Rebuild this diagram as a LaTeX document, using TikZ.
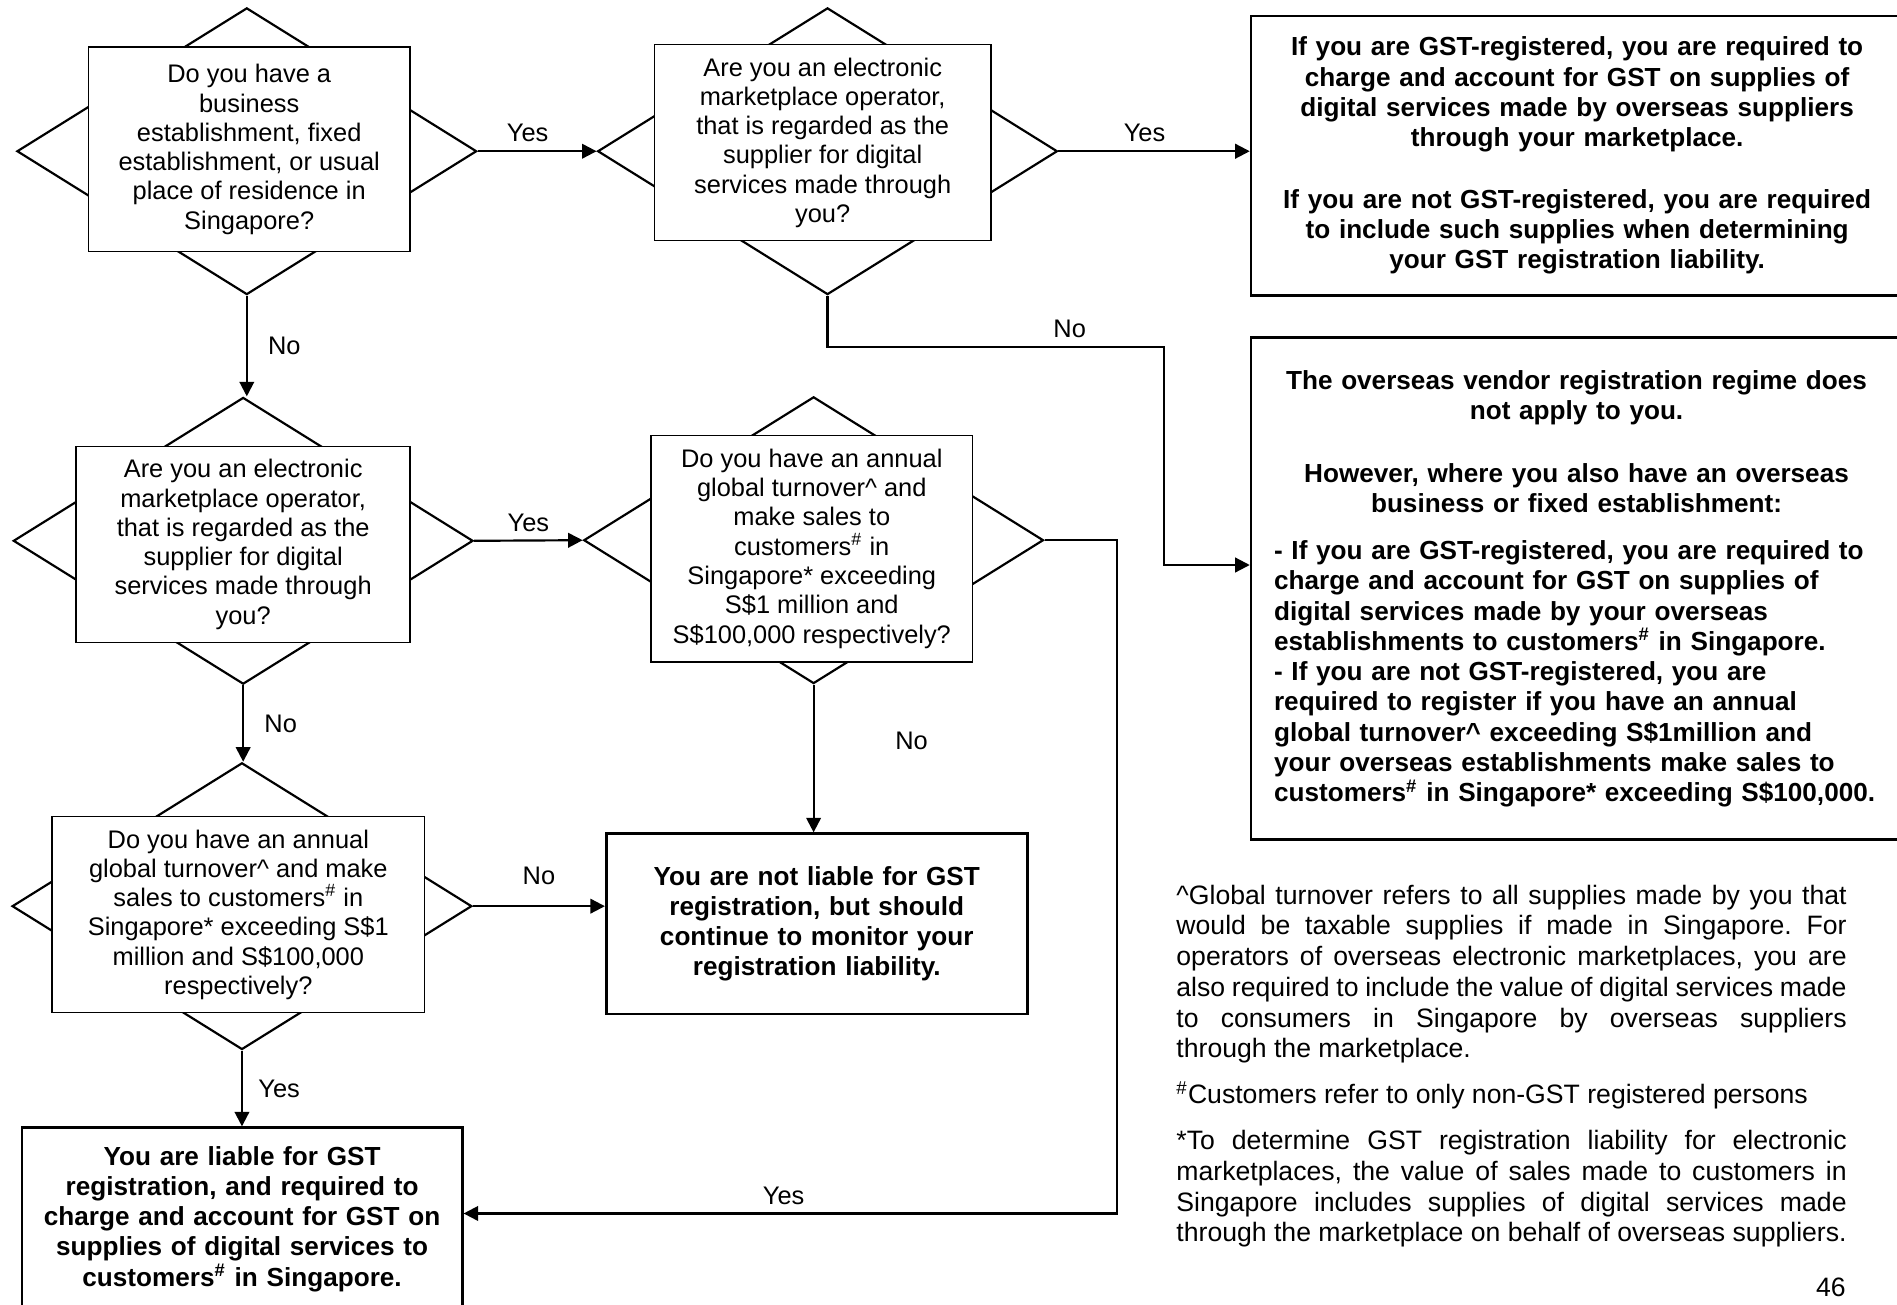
\documentclass[tikz,border=0pt]{standalone}
\usepackage{fontspec}
\setmainfont{Liberation Sans}
\usetikzlibrary{shapes.geometric,arrows.meta,positioning}
\frenchspacing

\begin{document}
\begin{tikzpicture}[
		x=0.5pt, y=-0.5pt,
		decision/.style={diamond, draw, line width=0.9pt, minimum width=190pt, minimum height=118.5pt, inner sep=0pt},
		question/.style={rectangle, draw, line width=0.6pt, fill=white, align=center, inner sep=0pt, font=\fontsize{10.5}{12.1}\selectfont},
		result/.style={rectangle, draw, line width=1.1pt, anchor=north west, align=center, inner ysep=0pt, inner xsep=3.5pt, font=\fontsize{10.8}{12.5}\selectfont\bfseries},
		note/.style={anchor=north west, inner sep=0pt, text width=277pt, align=justify, font=\fontsize{11}{12.7}\selectfont},
		arrow/.style={-{Triangle[length=6pt, width=6pt]}, line width=0.9pt},
		lbl/.style={font=\fontsize{10.5}{12}\selectfont}
	]
	\clip (0,0) rectangle (1568,1078);

	% decisions: a diamond with a box laid over it
	\node[decision] (d1) at (204,125) {};
	\node[decision] (d2) at (684,125) {};
	\node[decision] (d3) at (201,447) {};
	\node[decision] (d4) at (672.5,446.5) {};
	\node[decision] (d5) at (200,749) {};

	\node[question, minimum width=133pt, minimum height=84.5pt] (q1) at (206,123.5)
		{Do you have a\\business\\establishment, fixed\\establishment, or usual\\place of residence in\\Singapore?};
	\node[question, minimum width=139pt, minimum height=81pt] (q2) at (680,118)
		{Are you an electronic\\marketplace operator,\\that is regarded as the\\supplier for digital\\services made through\\you?};
	\node[question, minimum width=138pt, minimum height=81pt] (q3) at (201,450)
		{Are you an electronic\\marketplace operator,\\that is regarded as the\\supplier for digital\\services made through\\you?};
	\node[question, minimum width=133pt, minimum height=93.5pt] (q4) at (671,453.5)
		{Do you have an annual\\global turnover\textasciicircum{} and\\make sales to\\customers\textsuperscript{\#} in\\Singapore* exceeding\\S\$1 million and\\S\$100,000 respectively?};
	\node[question, minimum width=154pt, minimum height=81pt] (q5) at (197,756)
		{Do you have an annual\\global turnover\textasciicircum{} and make\\sales to customers\textsuperscript{\#} in\\Singapore* exceeding S\$1\\million and S\$100,000\\respectively?};

	% outcomes
	\node[result, text width=250pt, inner xsep=9.75pt, minimum height=115.5pt] (r1) at (1033,12)
		{If you are GST-registered, you are required to\\charge and account for GST on supplies of\\digital services made by overseas suppliers\\through your marketplace.\\[13pt]
		If you are not GST-registered, you are required\\to include such supplies when determining\\your GST registration liability.};
	\node[result, text width=258pt, inner xsep=9.5pt, minimum height=207.5pt, align=left] (r2) at (1033,278)
		{\makebox[250pt]{The overseas vendor registration regime does}\\
		\makebox[250pt]{not apply to you.}\\[13.5pt]
		\makebox[250pt]{However, where you also have an overseas}\\
		\makebox[250pt]{business or fixed establishment:}\\[7pt]
		- If you are GST-registered, you are required to\\
		charge and account for GST on supplies of\\
		digital services made by your overseas\\
		establishments to customers\textsuperscript{\#} in Singapore.\\
		- If you are not GST-registered, you are\\
		required to register if you have an annual\\
		global turnover\textasciicircum{} exceeding S\$1million and\\
		your overseas establishments make sales to\\
		customers\textsuperscript{\#} in Singapore* exceeding S\$100,000.};
	\node[result, text width=167pt, minimum height=74.5pt] (rno) at (500,688)
		{You are not liable for GST\\registration, but should\\continue to monitor your\\registration liability.};
	\node[result, text width=175pt, minimum height=75.5pt] (ryes) at (17,931)
		{You are liable for GST\\registration, and required to\\charge and account for GST on\\supplies of digital services to\\customers\textsuperscript{\#} in Singapore.};

	% footnotes
	\node[note] (fn) at (972,731)
		{\textasciicircum Global turnover refers to all supplies made by you that\linebreak
		would be taxable supplies if made in Singapore. For\linebreak
		operators of overseas electronic marketplaces, you are\linebreak
		also required to include the value of digital services made\linebreak
		to consumers in Singapore by overseas suppliers\linebreak
		through the marketplace.\\[6.3pt]
		\textsuperscript{\#}Customers refer to only non-GST registered persons\\[6.3pt]
		\relax*To determine GST registration liability for electronic\linebreak
		marketplaces, the value of sales made to customers in\linebreak
		Singapore includes supplies of digital services made\linebreak
		through the marketplace on behalf of overseas suppliers.};
	\node[anchor=east, inner sep=0pt, font=\fontsize{11}{13}\selectfont] (pg) at (1526,1064) {46};

	\coordinate (k1) at (962,287);
	\coordinate (k2) at (962,467);
	\coordinate (k3) at (923,1003);

	\draw[arrow] (d1.east) -- (d2.west) node[lbl, pos=0.42, above] {Yes};
	\draw[arrow] (d2.east) -- (d2.east -| r1.west) node[lbl, pos=0.45, above] {Yes};
	\draw[arrow] (d2.south) -- (d2.south |- k1) -- (k1) node[lbl, pos=0.72, above] {No} -- (k2) -- (k2 -| r2.west);
	\draw[arrow] (d1.south) -- (d1.south |- d3.north) node[lbl, midway, right=5pt] {No};
	\draw[arrow] (d3.east) -- (d4.west) node[lbl, midway, above] {Yes};
	\draw[arrow] (d4.east) -| (k3) -- (k3 -| ryes.east) node[lbl, pos=0.51, above] {Yes};
	\draw[arrow] (d4.south) -- (d4.south |- rno.north) node[lbl, pos=0.38, right=30pt] {No};
	\draw[arrow] (d3.south) -- (d3.south |- d5.north) node[lbl, midway, right=5pt] {No};
	\draw[arrow] (d5.east) -- (d5.east -| rno.west) node[lbl, midway, above=5pt] {No};
	\draw[arrow] (d5.south) -- (d5.south |- ryes.north) node[lbl, midway, right=3pt] {Yes};
\end{tikzpicture}
\end{document}
